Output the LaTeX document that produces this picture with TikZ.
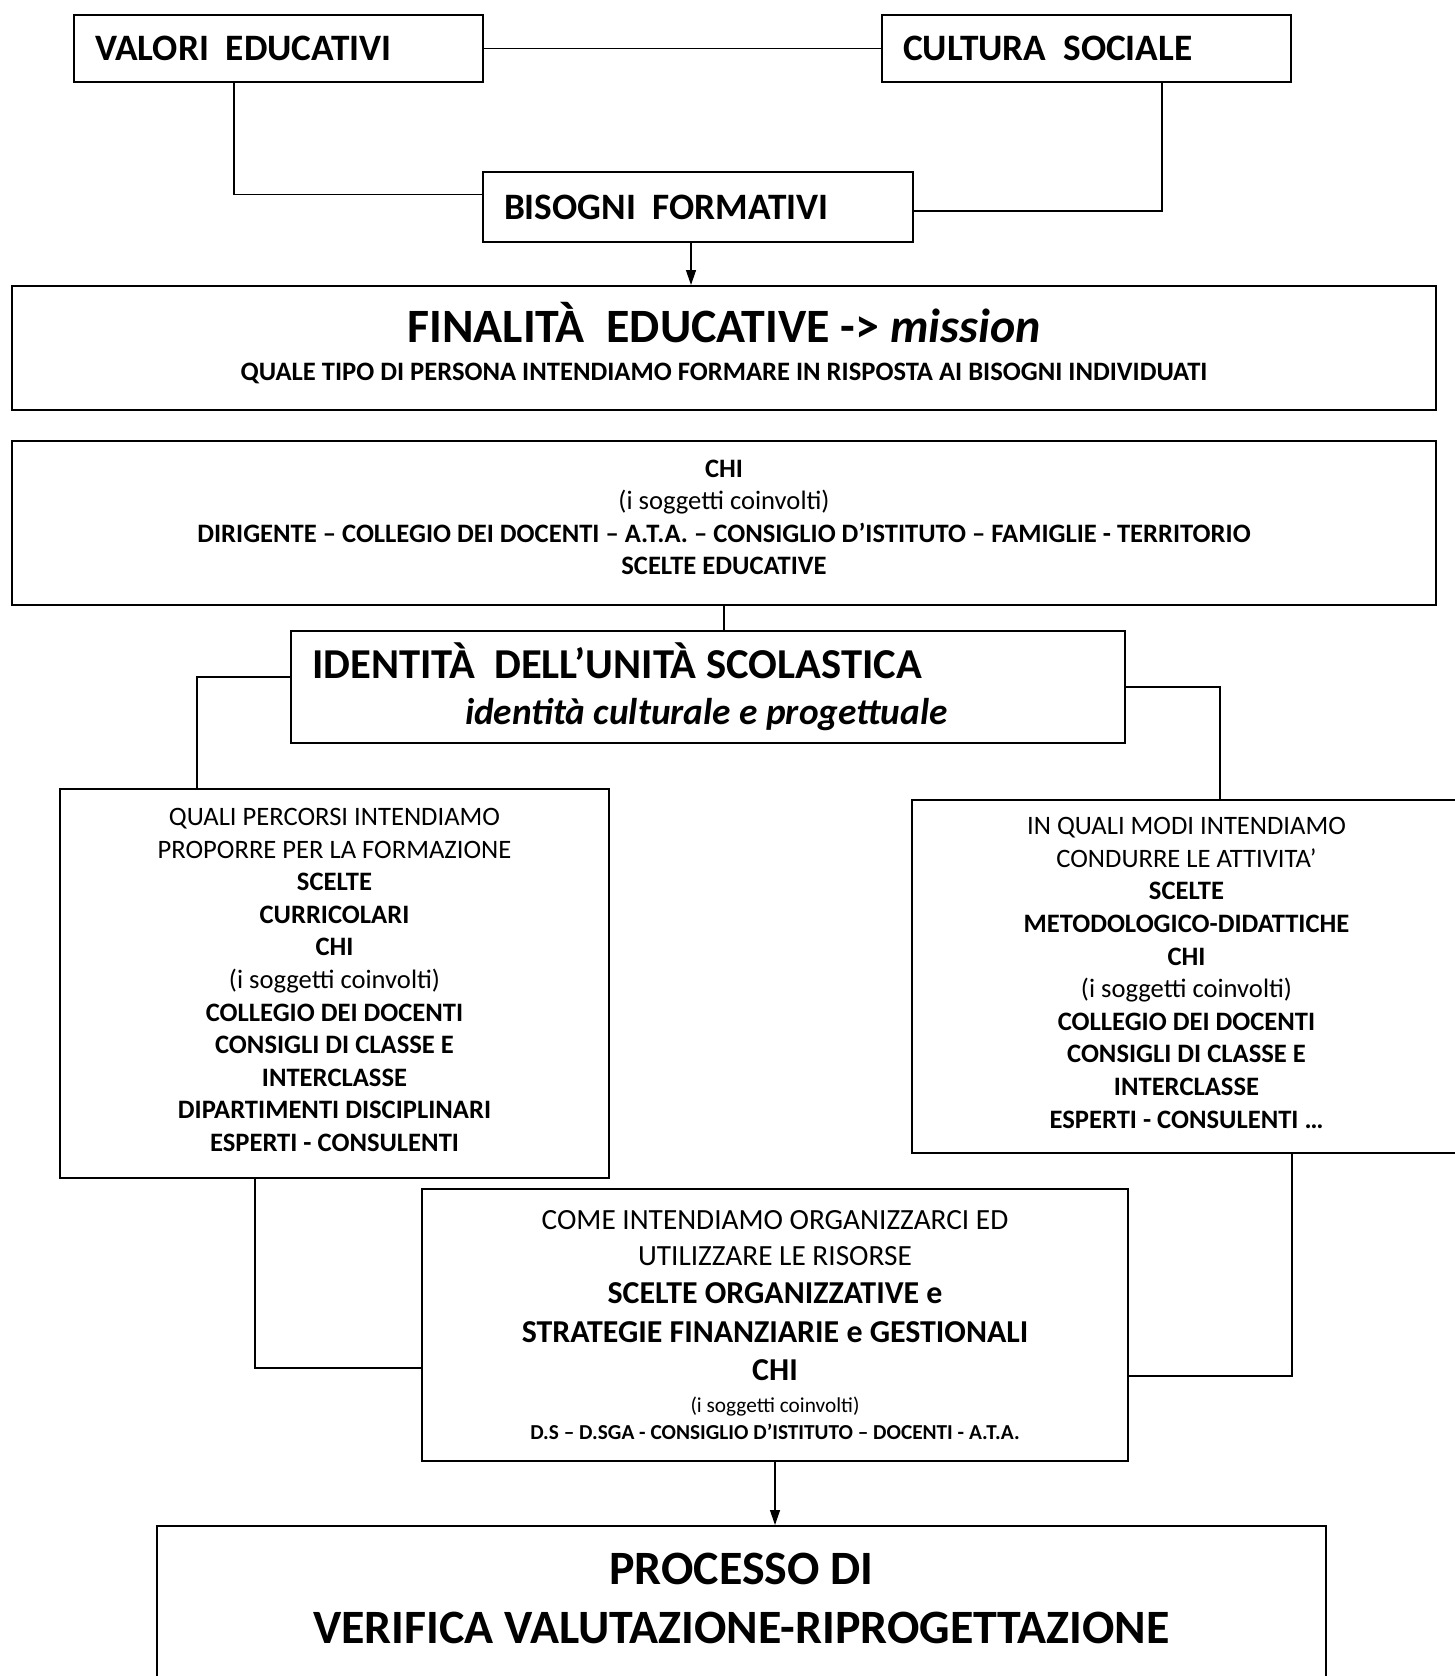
\documentclass[tikz,border=0pt]{standalone}
\usepackage{fontspec}
\setmainfont{Carlito}
\usetikzlibrary{arrows.meta}

\newcommand{\fs}[2]{\fontsize{#1}{#2}\selectfont}

\begin{document}
\begin{tikzpicture}[x=1pt,y=-1pt,
    box/.style={draw,line width=2pt,inner sep=0pt,anchor=north west},
    link/.style={line width=1.3pt},
    arr/.style={line width=1.3pt,-{Triangle[length=15pt,width=10pt]}}]
  \useasboundingbox (0,0) rectangle (1455,1676);

  \path (73,14) node[box,minimum width=409pt,minimum height=67pt,inner xsep=21pt,text width=367pt,align=flush left,font=\fs{37.3}{45}\bfseries] (valori) {VALORI~~EDUCATIVI};
  \path (881,14) node[box,minimum width=409pt,minimum height=67pt,inner xsep=21pt,text width=367pt,align=flush left,font=\fs{37.3}{45}\bfseries] (cultura) {CULTURA~~SOCIALE};
  \path (482,171) node[box,minimum width=430pt,minimum height=70pt,inner xsep=21pt,text width=388pt,align=flush left,font=\fs{37.3}{45}\bfseries] (bisogni) {BISOGNI~~FORMATIVI};

  \path (11,285) node[box,minimum width=1424pt,minimum height=124pt,text width=1380pt,align=flush center,text height=30.5pt] (finalita)
    {{\fs{47.9}{58}\bfseries FINALITÀ~~EDUCATIVE -> \textit{mission}\par}
     {\fs{26.6}{37.5}\bfseries QUALE TIPO DI PERSONA INTENDIAMO FORMARE IN RISPOSTA AI BISOGNI INDIVIDUATI\par}};

  \path (11,440) node[box,minimum width=1424pt,minimum height=164pt,text width=1380pt,align=flush center,text height=6pt,font=\fs{26.6}{32.6}] (chi)
    {\textbf{CHI}\\ (i soggetti coinvolti)\\
     \textbf{DIRIGENTE – COLLEGIO DEI DOCENTI – A.T.A. – CONSIGLIO D’ISTITUTO – FAMIGLIE - TERRITORIO}\\
     \textbf{SCELTE EDUCATIVE}};

  \path (290,630) node[box,minimum width=834pt,minimum height=112pt,inner xsep=21pt,text width=792pt,align=flush left] (identita)
    {{\fs{42.6}{50}\bfseries IDENTITÀ~~DELL’UNITÀ SCOLASTICA\par}
     {\fs{37.3}{46}\bfseries\itshape\hspace*{153pt}identità culturale e progettuale\par}};

  \path (59,788) node[box,minimum width=549pt,minimum height=389pt,text width=509pt,align=flush center,text height=10pt,font=\fs{26.6}{32.6}] (percorsi)
    {QUALI PERCORSI INTENDIAMO\\ PROPORRE PER LA FORMAZIONE\\ \textbf{SCELTE}\\ \textbf{CURRICOLARI}\\ \textbf{CHI}\\
     (i soggetti coinvolti)\\ \textbf{COLLEGIO DEI DOCENTI}\\ \textbf{CONSIGLI DI CLASSE E}\\ \textbf{INTERCLASSE}\\
     \textbf{DIPARTIMENTI DISCIPLINARI}\\ \textbf{ESPERTI - CONSULENTI}};

  \path (911,799) node[box,minimum width=549pt,minimum height=353pt,text width=509pt,align=flush center,text height=10pt,font=\fs{26.6}{32.6}] (modi)
    {IN QUALI MODI INTENDIAMO\\ CONDURRE LE ATTIVITA’\\ \textbf{SCELTE}\\ \textbf{METODOLOGICO-DIDATTICHE}\\ \textbf{CHI}\\
     (i soggetti coinvolti)\\ \textbf{COLLEGIO DEI DOCENTI}\\ \textbf{CONSIGLI DI CLASSE E}\\ \textbf{INTERCLASSE}\\
     \textbf{ESPERTI - CONSULENTI …}};

  \path (421,1188) node[box,minimum width=706pt,minimum height=272pt,text width=666pt,align=flush center] (organizza)
    {{\fs{29.3}{35.7}COME INTENDIAMO ORGANIZZARCI ED\par UTILIZZARE LE RISORSE\par}
     {\fs{31.9}{38.5}\bfseries SCELTE ORGANIZZATIVE e\par STRATEGIE FINANZIARIE e GESTIONALI\par CHI\par}
     {\fs{21.3}{32}(i soggetti coinvolti)\par}
     {\fs{21.3}{27}\bfseries D.S – D.SGA - CONSIGLIO D’ISTITUTO – DOCENTI - A.T.A.\par}};

  \path (156,1525) node[box,minimum width=1169pt,minimum height=170pt,text width=1129pt,align=flush center,text height=7pt,font=\fs{47.9}{59}\bfseries] (processo)
    {PROCESSO DI\\ VERIFICA VALUTAZIONE-RIPROGETTAZIONE};

  \draw[link] (valori) -- (cultura);
  \draw[link] ([xshift=-44.5pt]valori.south) |- ([yshift=12.5pt]bisogni.west);
  \draw[link] ([xshift=75.5pt]cultura.south) |- ([yshift=-4pt]bisogni.east);
  \draw[arr] ([xshift=-7pt]bisogni.south) -- ([xshift=-7pt]bisogni.south |- finalita.north);
  \draw[link] (chi.south) -- (chi.south |- identita.north);
  \draw[link] ([yshift=10pt]identita.west) -| ([xshift=-137.5pt]percorsi.north);
  \draw[link] (identita.east) -| ([xshift=33.5pt]modi.north);
  \draw[link] ([xshift=-79.5pt]percorsi.south) |- ([yshift=-43pt]organizza.west);
  \draw[link] ([xshift=105.5pt]modi.south) |- ([yshift=-51pt]organizza.east);
  \draw[arr] (organizza.south) -- (organizza.south |- processo.north);
\end{tikzpicture}
\end{document}
